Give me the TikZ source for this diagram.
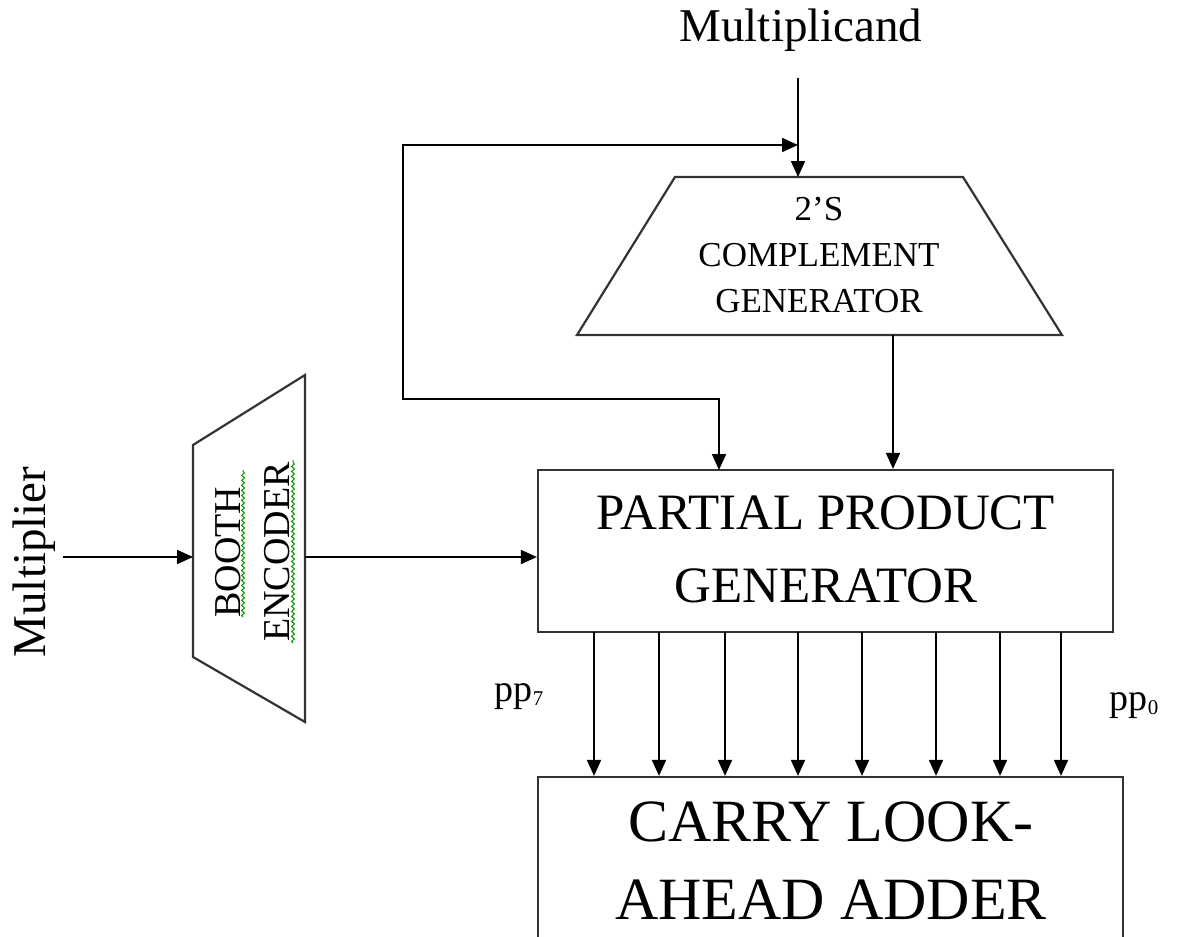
\documentclass[tikz,border=0pt]{standalone}
\usepackage{fontspec}
\setmainfont{Liberation Serif}
\usetikzlibrary{arrows.meta,decorations.pathmorphing}
\begin{document}
\begin{tikzpicture}[x=1pt,y=-1pt,
  tip/.tip={Triangle[length=16pt,width=14pt]},
  wire/.style={line width=1.8pt,-tip},
  twoway/.style={line width=1.8pt,tip-tip},
  blockline/.style={draw=black!80,line width=2.2pt},
  box/.style={blockline,rectangle,inner sep=0pt},
  lbl/.style={inner sep=0pt},
  squig/.style={draw=green!60!black,line width=1pt,decorate,
    decoration={snake,segment length=5pt,amplitude=1.4pt}}
]
\useasboundingbox (0,0) rectangle (1179,937);
\clip (0,0) rectangle (1179,937);

% external inputs
\node[lbl,font=\fontsize{47}{47}\selectfont] (mcand) at (801,30) {Multiplicand};
\node[lbl,font=\fontsize{47}{47}\selectfont,rotate=90] (mplier) at (34,562) {Multiplier};
\coordinate (mcStart) at (798,78);
\coordinate (mpStart) at (63,557);

% 2's complement generator
\draw[blockline] (675,177) -- (963,177) -- (1062,335) -- (577,335) -- cycle;
\coordinate (tcIn) at (798,177);
\coordinate (tcOut) at (893,335);
\node[lbl,align=center,font=\fontsize{35}{46}\selectfont] (tc) at (819,255)
  {2'S\\COMPLEMENT\\GENERATOR};

% Booth encoder
\draw[blockline] (193,445) -- (305,375) -- (305,722) -- (193,657) -- cycle;
\coordinate (beIn) at (193,557);
\coordinate (beOut) at (305,557);
\node[lbl,rotate=90,font=\fontsize{38}{38}\selectfont] (booth) at (228.5,552) {BOOTH};
\node[lbl,rotate=90,font=\fontsize{38}{38}\selectfont] (enc) at (277,552) {ENCODER};
\draw[squig] (243,617) -- (243,470);
\draw[squig] (293,643) -- (293,460);

% partial product generator
\node[box,minimum width=575pt,minimum height=162pt] (ppg) at (825.5,551) {};
\node[lbl,align=center,font=\fontsize{51}{73}\selectfont] (ppgtxt) at (826,549)
  {PARTIAL PRODUCT\\GENERATOR};

% carry look-ahead adder (runs past the lower edge)
\node[box,minimum width=585pt,minimum height=190pt] (cla) at (830.5,872) {};
\node[lbl,align=center,font=\fontsize{60}{78}\selectfont] (clatxt) at (831,861)
  {CARRY LOOK-\\AHEAD ADDER};

% connections
\draw[wire] (mcStart) -- (tcIn);
\draw[twoway] (tcIn |- 0,145) -- (403,145) -- (403,399) -- (719,399) -- (719,470);
\draw[wire] (tcOut) -- (tcOut |- ppg.north);
\draw[wire] (mpStart) -- (beIn);
\draw[wire] (beOut) -- (beOut -| ppg.west);

% partial products pp7 ... pp0
\foreach \x/\n in {594/7,659/6,725/5,798/4,862/3,936/2,1000/1,1061/0}{
  \coordinate (pp\n) at (\x,632);
  \draw[wire] (pp\n) -- (pp\n |- cla.north);
}
\node[lbl,font=\fontsize{38}{38}\selectfont] (l7) at (519,697)
  {pp\raisebox{-4pt}{\fontsize{21}{21}\selectfont 7}};
\node[lbl,font=\fontsize{38}{38}\selectfont] (l0) at (1134,706)
  {pp\raisebox{-4pt}{\fontsize{21}{21}\selectfont 0}};
\end{tikzpicture}
\end{document}
